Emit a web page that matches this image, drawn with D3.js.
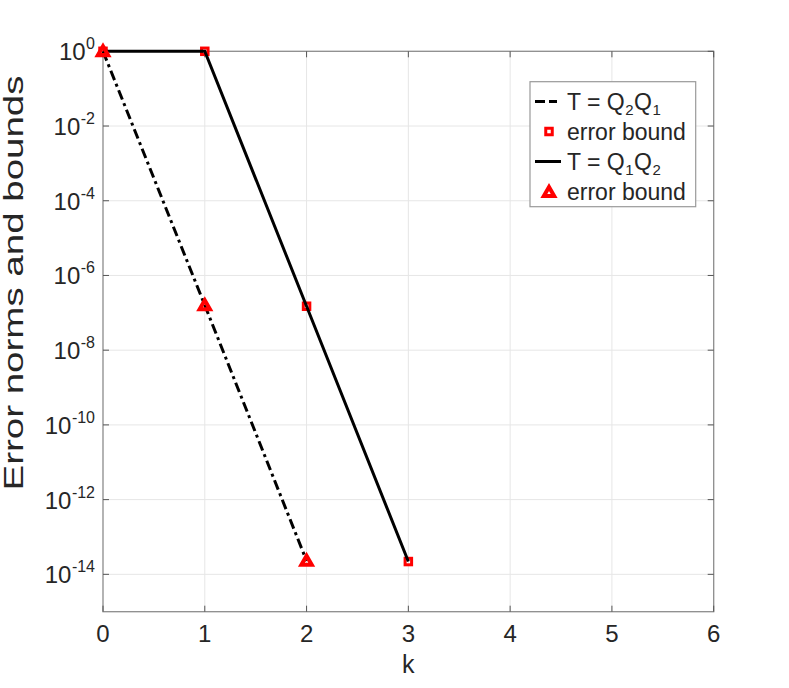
<!DOCTYPE html>
<meta charset="utf-8">
<script src="https://d3js.org/d3.v7.min.js"></script>
<style>
  body { margin: 0; background: #fff; }
  text { font-family: "Liberation Sans", Arial, sans-serif; fill: #262626; }
</style>
<div id="vis"></div>
<script>

// data
var kQ2Q1 = [0, 1, 2];
var errQ2Q1 = [1, 1.6e-7, 2.3e-14];      // dash-dot line, triangles
var kQ1Q2 = [0, 1, 2, 3];
var errQ1Q2 = [1, 1, 1.5e-7, 2.2e-14];   // solid line, squares
var xTicks = [0, 1, 2, 3, 4, 5, 6];
var yExps = [0, -2, -4, -6, -8, -10, -12, -14];
// legend entries: pieces of [text, isSubscript]
var legendLabels = [
  [["T = Q", 0], ["2", 1], ["Q", 0], ["1", 1]],
  [["error bound", 0]],
  [["T = Q", 0], ["1", 1], ["Q", 0], ["2", 1]],
  [["error bound", 0]]
];

var W = 789, H = 688;
var margin = {top: 51.3, right: 75.3, bottom: 76.3, left: 103},
    width = W - margin.left - margin.right,
    height = H - margin.top - margin.bottom;

var svg = d3.select("#vis")
  .append("svg")
    .attr("width", W)
    .attr("height", H);

var g = svg.append("g")
    .attr("transform", "translate(" + margin.left + "," + margin.top + ")");

var x = d3.scaleLinear().domain([0, 6]).range([0, width]);
var y = d3.scaleLog().domain([1e-15, 1]).range([height, 0]);

// grid
g.append("g").selectAll("line")
  .data(xTicks.slice(1, -1))
  .enter().append("line")
    .attr("x1", d => x(d)).attr("x2", d => x(d))
    .attr("y1", 0).attr("y2", height)
    .style("stroke", "#e6e6e6");
g.append("g").selectAll("line")
  .data(yExps.slice(1))
  .enter().append("line")
    .attr("x1", 0).attr("x2", width)
    .attr("y1", d => y(Math.pow(10, d))).attr("y2", d => y(Math.pow(10, d)))
    .style("stroke", "#e6e6e6");

// box
g.append("rect")
  .attr("width", width).attr("height", height)
  .style("fill", "none").style("stroke", "#8c8c8c").style("stroke-width", 1.3);

// ticks (inward)
var tl = 6;
xTicks.forEach(function(t) {
  g.append("line").attr("x1", x(t)).attr("x2", x(t)).attr("y1", height).attr("y2", height - tl).style("stroke", "#555");
  g.append("line").attr("x1", x(t)).attr("x2", x(t)).attr("y1", 0).attr("y2", tl).style("stroke", "#555");
});
yExps.forEach(function(e) {
  var yy = y(Math.pow(10, e));
  g.append("line").attr("x1", 0).attr("x2", tl).attr("y1", yy).attr("y2", yy).style("stroke", "#555");
  g.append("line").attr("x1", width).attr("x2", width - tl).attr("y1", yy).attr("y2", yy).style("stroke", "#555");
});

// tick labels
g.selectAll("text.xt")
  .data(xTicks)
  .enter().append("text")
    .attr("x", d => x(d))
    .attr("y", height + 30)
    .style("text-anchor", "middle")
    .style("font-size", "24px")
    .text(d => d);

yExps.forEach(function(e) {
  var yy = y(Math.pow(10, e));
  var ex = g.append("text")
    .attr("x", -8)
    .attr("y", yy - 2)
    .style("text-anchor", "end")
    .style("font-size", "16px")
    .text(e === 0 ? "0" : "-" + Math.abs(e));
  var w = ex.node().getComputedTextLength();
  g.append("text")
    .attr("x", -8 - w - 0.5)
    .attr("y", yy + 9)
    .style("text-anchor", "end")
    .style("font-size", "24px")
    .text("10");
});

// axis labels
svg.append("text")
  .attr("x", margin.left + width / 2)
  .attr("y", 673)
  .style("text-anchor", "middle")
  .style("font-size", "25px")
  .text("k");

svg.append("text")
  .attr("transform", "translate(23,283) rotate(-90)")
  .style("text-anchor", "middle")
  .style("font-size", "27px")
  .attr("textLength", 415)
  .attr("lengthAdjust", "spacingAndGlyphs")
  .text("Error norms and bounds");

// lines
var line = d3.line().x(d => x(d[0])).y(d => y(d[1]));
var ptsQ2Q1 = kQ2Q1.map((k, i) => [k, errQ2Q1[i]]);
var ptsQ1Q2 = kQ1Q2.map((k, i) => [k, errQ1Q2[i]]);
var dashDot = "10,4,3,4";

g.append("path")
  .datum(ptsQ2Q1)
  .attr("d", line)
  .style("fill", "none").style("stroke", "#000").style("stroke-width", 3)
  .style("stroke-dasharray", dashDot);

var sq = 6.5;
function square(sel) {
  sel.attr("width", sq).attr("height", sq)
    .style("fill", "none").style("stroke", "#ff0000").style("stroke-width", 3);
}
g.selectAll("rect.sq")
  .data(ptsQ1Q2)
  .enter().append("rect")
    .attr("x", d => x(d[0]) - sq / 2).attr("y", d => y(d[1]) - sq / 2)
    .call(square);

g.append("path")
  .datum(ptsQ1Q2)
  .attr("d", line)
  .style("fill", "none").style("stroke", "#000").style("stroke-width", 3);

var tri = d3.symbol().type(d3.symbolTriangle).size(46);
g.selectAll("path.tri")
  .data(ptsQ2Q1)
  .enter().append("path")
    .attr("d", tri)
    .attr("transform", d => "translate(" + x(d[0]) + "," + (y(d[1]) + 1) + ")")
    .style("fill", "none").style("stroke", "#ff0000").style("stroke-width", 4);

// legend
var lg = svg.append("g");
lg.append("rect")
  .attr("x", 530).attr("y", 81.7).attr("width", 165.7).attr("height", 125)
  .style("fill", "#fff").style("stroke", "#999").style("stroke-width", 1.2);

var rows = [101.5, 131.5, 161.5, 192];
lg.append("line").attr("x1", 535).attr("x2", 561).attr("y1", rows[0]).attr("y2", rows[0])
  .style("stroke", "#000").style("stroke-width", 3).style("stroke-dasharray", "10,4,8");
lg.append("rect").attr("x", 549 - sq / 2).attr("y", rows[1] - sq / 2).call(square);
lg.append("line").attr("x1", 535).attr("x2", 561).attr("y1", rows[2]).attr("y2", rows[2])
  .style("stroke", "#000").style("stroke-width", 3);
lg.append("path").attr("d", tri).attr("transform", "translate(549," + (rows[3] + 1) + ")")
  .style("fill", "none").style("stroke", "#ff0000").style("stroke-width", 4);

legendLabels.forEach(function(parts, i) {
  var cx = 567;
  parts.forEach(function(p) {
    var t = lg.append("text")
      .attr("x", cx)
      .attr("y", rows[i] + 8 + (p[1] ? 5 : 0))
      .style("font-size", p[1] ? "15px" : "23px")
      .text(p[0]);
    cx += t.node().getComputedTextLength() + 0.5;
  });
});

</script>
